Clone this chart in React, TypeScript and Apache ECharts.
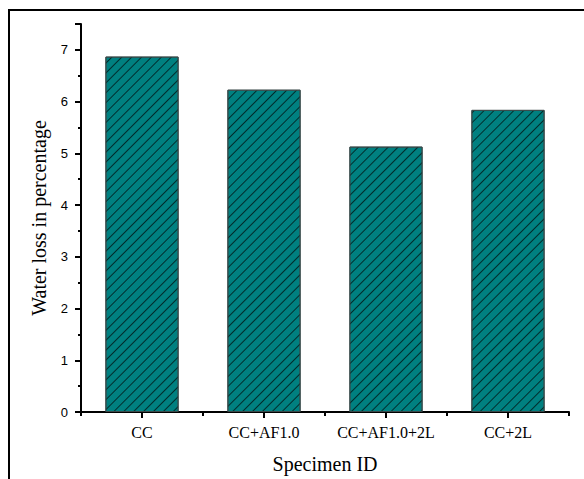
import React, { useEffect, useRef } from "react";
import * as echarts from "echarts";

const categories = ["CC", "CC+AF1.0", "CC+AF1.0+2L", "CC+2L"];
const waterLoss = [6.87, 6.23, 5.13, 5.84];
const yTicks = [0, 1, 2, 3, 4, 5, 6, 7];

export default function App() {
  const ref = useRef<HTMLDivElement>(null);
  useEffect(() => {
    if (!ref.current) return;
    const chart = echarts.init(ref.current, null, { renderer: "svg" });
    const serif = "'Liberation Serif', 'Times New Roman', serif";
    chart.setOption({
      animation: false,
      backgroundColor: "#fff",
      grid: { left: 81, right: 15, top: 24, bottom: 66, containLabel: false },
      xAxis: [
        {
          type: "category",
          data: categories,
          position: "bottom",
          name: "Specimen ID",
          nameLocation: "middle",
          nameGap: 42,
          nameTextStyle: { fontFamily: serif, fontSize: 20, color: "#000" },
          axisLine: { lineStyle: { color: "#000", width: 2 } },
          axisTick: { show: true, alignWithLabel: true, length: 6, lineStyle: { color: "#000", width: 2 } },
          axisLabel: { fontFamily: serif, fontSize: 16, color: "#000", margin: 12, interval: 0 },
          splitLine: { show: false },
        },
        {
          type: "category",
          data: categories,
          position: "bottom",
          axisLine: { show: false },
          axisTick: { show: true, interval: 0, length: 4, lineStyle: { color: "#000", width: 2 } },
          axisLabel: { show: false },
          splitLine: { show: false },
        },
      ],
      yAxis: {
        type: "value",
        min: 0,
        max: 7.5,
        interval: 1,
        name: "Water loss in percentage",
        nameLocation: "middle",
        nameGap: 32,
        nameTextStyle: { fontFamily: serif, fontSize: 20, color: "#000" },
        axisLine: { show: true, lineStyle: { color: "#000", width: 2 } },
        axisTick: { show: true, length: 6, lineStyle: { color: "#000", width: 2 } },
        minorTick: { show: true, splitNumber: 2, length: 3, lineStyle: { color: "#000", width: 2 } },
        axisLabel: {
          fontFamily: "'Liberation Sans', Arial, sans-serif",
          fontSize: 13,
          color: "#000",
          margin: 13,
          formatter: (v: number) => (yTicks.includes(v) ? String(v) : ""),
        },
        splitLine: { show: false },
      },
      series: [
        {
          type: "bar",
          data: waterLoss,
          xAxisIndex: 0,
          barWidth: "60%",
          itemStyle: {
            color: "#008080",
            borderColor: "#3a4a4a",
            borderWidth: 1,
            decal: {
              symbol: "rect",
              color: "rgba(0,0,0,0.65)",
              dashArrayX: [1, 0],
              dashArrayY: [1, 6],
              rotation: -Math.PI / 4,
            },
          },
        },
      ],
      graphic: [
        {
          type: "rect",
          shape: { x: 9, y: 10, width: 620, height: 520 },
          style: { fill: "none", stroke: "#000", lineWidth: 2 },
          silent: true,
        },
      ],
    });
    return () => chart.dispose();
  }, []);
  return <div ref={ref} style={{ width: 584, height: 479, position: "absolute", left: 0, top: 0 }} />;
}
